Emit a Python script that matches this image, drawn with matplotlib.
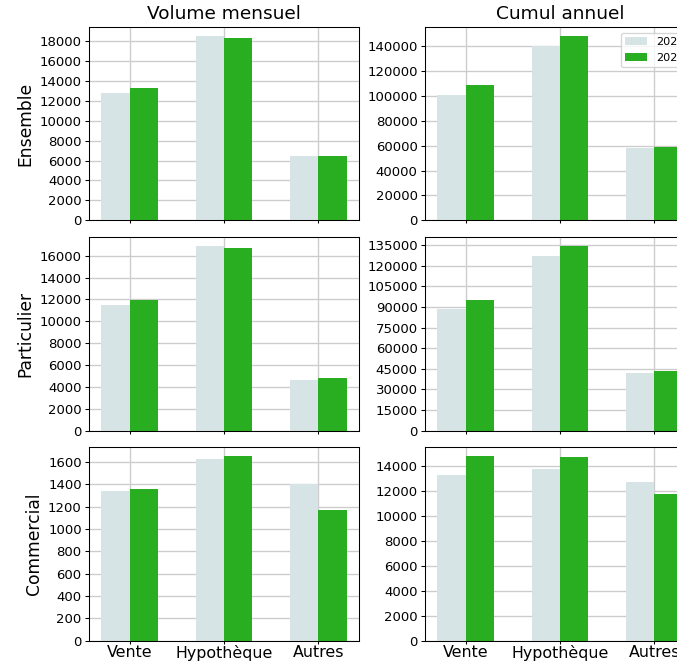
import numpy as np
import matplotlib
matplotlib.use("Agg")
import matplotlib.pyplot as plt
from matplotlib.ticker import MaxNLocator

categories = ["Vente", "Hypothèque", "Autres"]
years = ["2023", "2024"]
row_labels = ["Ensemble", "Particulier", "Commercial"]
col_titles = ["Volume mensuel", "Cumul annuel"]

# monthly volume
ens_month_2023 = [12790, 18480, 6480]
ens_month_2024 = [13260, 18270, 6490]
part_month_2023 = [11490, 16870, 4630]
part_month_2024 = [11950, 16700, 4820]
com_month_2023 = [1340, 1627, 1400]
com_month_2024 = [1358, 1652, 1170]

# cumulative
ens_cum_2023 = [100800, 140200, 58400]
ens_cum_2024 = [108900, 148200, 59200]
part_cum_2023 = [88500, 127000, 42000]
part_cum_2024 = [95000, 134200, 43400]
com_cum_2023 = [13280, 13760, 12720]
com_cum_2024 = [14800, 14700, 11760]

data = [
    [(ens_month_2023, ens_month_2024), (ens_cum_2023, ens_cum_2024)],
    [(part_month_2023, part_month_2024), (part_cum_2023, part_cum_2024)],
    [(com_month_2023, com_month_2024), (com_cum_2023, com_cum_2024)],
]

c2023 = "#d7e4e5"
c2024 = "#2aae21"

DPI = 95
W, H = 677, 664
fig = plt.figure(figsize=(W / DPI, H / DPI), dpi=DPI)

col_x = [(89, 359), (425, 695)]
row_y = [(27, 220.3), (237, 430.7), (447, 640.7)]

x = np.arange(len(categories))
bw = 0.3
for r in range(3):
    for c in range(2):
        x0, x1 = col_x[c]
        yt, yb = row_y[r]
        ax = fig.add_axes([x0 / W, 1 - yb / H, (x1 - x0) / W, (yb - yt) / H])
        v23, v24 = data[r][c]
        ax.bar(x - bw / 2, v23, width=bw, color=c2023, label=years[0])
        ax.bar(x + bw / 2, v24, width=bw, color=c2024, label=years[1])
        ax.set_axisbelow(True)
        ax.grid(True, color="#cccccc", linewidth=1.0)
        ax.yaxis.set_major_locator(MaxNLocator(integer=True))
        ax.set_xticks(x)
        ax.tick_params(axis="y", labelsize=10, length=3, pad=2.5)
        ax.tick_params(axis="x", length=2.3, pad=1.2)
        if r == 2:
            ax.set_xticklabels(categories, fontsize=12)
        else:
            ax.set_xticklabels([])
        if r == 0:
            ax.set_title(col_titles[c], fontsize=14)
        if c == 0:
            ax.set_ylabel(row_labels[r], fontsize=13)
        if r == 0 and c == 1:
            ax.legend(loc="upper right", fontsize=8.5)

fig.savefig("out.png", dpi=DPI)
